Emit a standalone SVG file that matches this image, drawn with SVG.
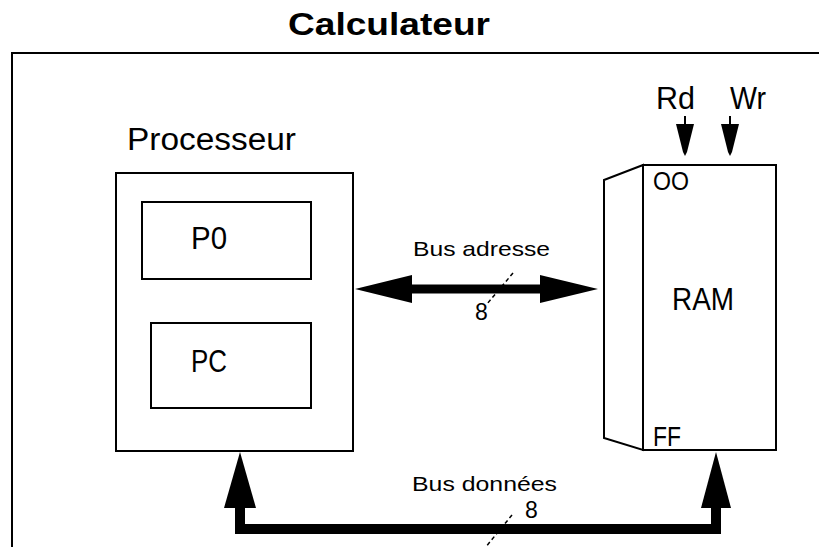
<svg xmlns="http://www.w3.org/2000/svg" width="819" height="547" viewBox="0 0 819 547">
<style>
.box{fill:none;stroke:#000;stroke-width:2}
.t{font-family:"Liberation Sans",Arial,sans-serif;fill:#000}
.big{font-size:31px}
.sm{font-size:21px}
.bus{fill:none;stroke:#000;stroke-width:10;stroke-linejoin:miter}
.head{fill:#000;stroke:none}
.slash{stroke:#000;stroke-width:1.5;stroke-dasharray:4 3}
</style>
<rect width="819" height="547" fill="#fff"/>
<g id="calculateur">
<rect class="box" x="12" y="53" width="900" height="600"/>
<text class="t" x="288" y="35" font-size="31" font-weight="bold" textLength="202" lengthAdjust="spacingAndGlyphs">Calculateur</text>
</g>
<g id="processeur">
<rect class="box" x="116" y="173" width="237" height="278"/>
<text class="t big" x="127" y="150" textLength="169" lengthAdjust="spacingAndGlyphs">Processeur</text>
</g>
<g id="po">
<rect class="box" x="142" y="202" width="169" height="77"/>
<text class="t big" x="191" y="249" textLength="36" lengthAdjust="spacingAndGlyphs">P0</text>
</g>
<g id="pc">
<rect class="box" x="151" y="323" width="160" height="85"/>
<text class="t big" x="191" y="372" textLength="36" lengthAdjust="spacingAndGlyphs">PC</text>
</g>
<g id="ram">
<polygon class="box" points="643,165 604,180 604,438 643,450"/>
<rect class="box" x="643" y="165" width="133" height="285"/>
<text class="t big" x="672" y="310" textLength="62" lengthAdjust="spacingAndGlyphs">RAM</text>
<text class="t" x="653" y="190" font-size="26" textLength="36" lengthAdjust="spacingAndGlyphs">OO</text>
<text class="t" x="653" y="446" font-size="28" textLength="28" lengthAdjust="spacingAndGlyphs">FF</text>
</g>
<g id="rd">
<text class="t big" x="656" y="109" textLength="39" lengthAdjust="spacingAndGlyphs">Rd</text>
</g>
<g id="wr">
<text class="t big" x="730" y="109" textLength="36" lengthAdjust="spacingAndGlyphs">Wr</text>
</g>
<g id="connectors">
<line x1="685" y1="116" x2="685" y2="126" stroke="#000" stroke-width="2"/>
<polygon class="head" points="676,124 694,124 687,152 685,156 683,152"/>
<line x1="730" y1="116" x2="730" y2="126" stroke="#000" stroke-width="2"/>
<polygon class="head" points="721,124 739,124 732,152 730,156 728,152"/>
<line x1="410" y1="289" x2="542" y2="289" stroke="#000" stroke-width="9"/>
<polygon class="head" points="355,289 412,275 412,303"/>
<polygon class="head" points="598,289 540,275 540,303"/>
<line class="slash" x1="513" y1="273" x2="487" y2="304"/>
<text class="t sm" x="413" y="256" textLength="137" lengthAdjust="spacingAndGlyphs">Bus adresse</text>
<text class="t" x="475" y="320" font-size="23">8</text>
<path class="bus" d="M240,505 V529 H716 V505"/>
<polygon class="head" points="240,452 256,508 224,508"/>
<polygon class="head" points="716,452 731,508 701,508"/>
<line class="slash" x1="512" y1="515" x2="480" y2="554"/>
<text class="t sm" x="412" y="491" textLength="145" lengthAdjust="spacingAndGlyphs">Bus données</text>
<text class="t" x="525" y="518" font-size="23">8</text>
</g>
</svg>
